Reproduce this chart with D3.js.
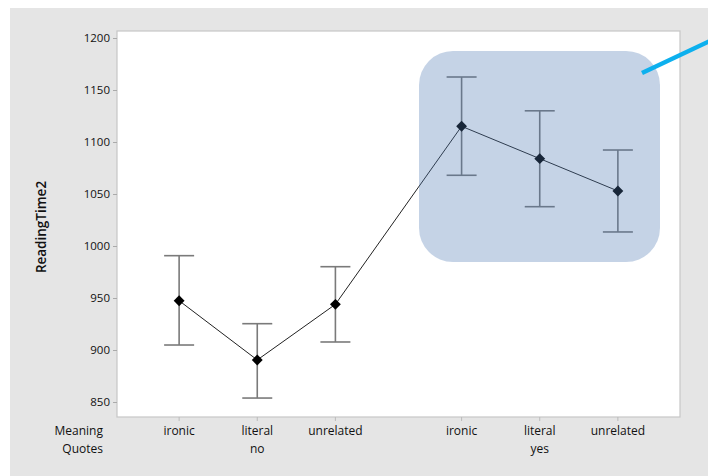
<!DOCTYPE html>
<html>
<head>
<meta charset="utf-8">
<script src="https://cdn.jsdelivr.net/npm/d3@7"></script>
<style>
body { margin: 0; background: #fff; font-family: "Open Sans", "Noto Sans", sans-serif; }
svg text { fill: #111; }
</style>
</head>
<body>
<script>
// chart values
var meaning = ["ironic", "literal", "unrelated", "ironic", "literal", "unrelated"];
var quotes  = ["no", "no", "no", "yes", "yes", "yes"];
var means   = [947.4, 890.4, 943.9, 1115.1, 1084.0, 1052.9];
var upper   = [990.7, 925.3, 980.1, 1162.5, 1130.0, 1092.3];
var lower   = [904.8, 853.8, 907.7, 1068.0, 1037.8, 1013.5];
var yTicks  = [850, 900, 950, 1000, 1050, 1100, 1150, 1200];

var width = 708, height = 476;
var plot = {left: 117, top: 31, right: 680, bottom: 417};

var svg = d3.select("body").append("svg")
    .attr("width", width)
    .attr("height", height);

// grey background panel
svg.append("rect")
    .attr("x", 10).attr("y", 8)
    .attr("width", width - 10).attr("height", height - 8)
    .attr("fill", "#e5e5e5");

// position of each point: index within group plus a gap between groups
function pos(i) {
    var g = Math.floor(i / 3);
    return g * 3.615 + (i % 3);
}

var x = d3.scaleLinear()
    .domain([-0.795, 6.41])
    .range([plot.left, plot.right]);

var y = d3.scaleLinear()
    .domain([1200, 850])
    .range([38, 402]);

svg.append("rect")
    .attr("x", plot.left).attr("y", plot.top)
    .attr("width", plot.right - plot.left)
    .attr("height", plot.bottom - plot.top)
    .attr("fill", "#fff")
    .attr("stroke", "#c6c6c6")
    .attr("stroke-width", 1.2);

// y axis
var yAxis = svg.append("g")
    .attr("transform", "translate(" + plot.left + ",0)")
    .call(d3.axisLeft(y).tickValues(yTicks).tickFormat(d3.format("d")).tickSize(4).tickPadding(3));
yAxis.select(".domain").remove();
yAxis.selectAll("line").attr("stroke", "#aaa");
yAxis.selectAll("text").attr("font-size", 11.5).attr("font-family", "Open Sans").attr("fill", "#111");

// x axis ticks
var idx = d3.range(meaning.length);
svg.selectAll(".xtick")
    .data(idx)
    .enter().append("line")
    .attr("x1", function(d) { return x(pos(d)); })
    .attr("x2", function(d) { return x(pos(d)); })
    .attr("y1", plot.bottom)
    .attr("y2", plot.bottom + 4)
    .attr("stroke", "#bbb");

svg.selectAll(".xlab")
    .data(idx)
    .enter().append("text")
    .attr("x", function(d) { return x(pos(d)); })
    .attr("y", 435)
    .attr("text-anchor", "middle")
    .attr("font-size", 12)
    .text(function(d) { return meaning[d]; });

// group labels under the middle level
svg.selectAll(".glab")
    .data([1, 4])
    .enter().append("text")
    .attr("x", function(d) { return x(pos(d)); })
    .attr("y", 453)
    .attr("text-anchor", "middle")
    .attr("font-size", 12)
    .text(function(d) { return quotes[d]; });

svg.append("text").attr("x", 103).attr("y", 435)
    .attr("text-anchor", "end").attr("font-size", 12).text("Meaning");
svg.append("text").attr("x", 103).attr("y", 453)
    .attr("text-anchor", "end").attr("font-size", 12).text("Quotes");

svg.append("text")
    .attr("transform", "translate(46,227) rotate(-90)")
    .attr("text-anchor", "middle")
    .attr("font-size", 13.5)
    .attr("font-weight", 600)
    .text("ReadingTime2");

// error bars
var bars = svg.append("g").attr("stroke", "#7a7a7a").attr("stroke-width", 1.6);
bars.selectAll(".v")
    .data(idx)
    .enter().append("line")
    .attr("x1", function(d) { return x(pos(d)); })
    .attr("x2", function(d) { return x(pos(d)); })
    .attr("y1", function(d) { return y(upper[d]); })
    .attr("y2", function(d) { return y(lower[d]); });
[upper, lower].forEach(function(arr) {
    bars.selectAll(null)
        .data(idx)
        .enter().append("line")
        .attr("x1", function(d) { return x(pos(d)) - 15; })
        .attr("x2", function(d) { return x(pos(d)) + 15; })
        .attr("y1", function(d) { return y(arr[d]); })
        .attr("y2", function(d) { return y(arr[d]); });
});

// connecting line and diamonds
var line = d3.line()
    .x(function(d) { return x(pos(d)); })
    .y(function(d) { return y(means[d]); });
svg.append("path")
    .datum(idx)
    .attr("d", line)
    .attr("fill", "none")
    .attr("stroke", "#222")
    .attr("stroke-width", 1);

svg.selectAll(".pt")
    .data(idx)
    .enter().append("path")
    .attr("transform", function(d) { return "translate(" + x(pos(d)) + "," + y(means[d]) + ")"; })
    .attr("d", d3.symbol().type(d3.symbolDiamond2).size(75))
    .attr("fill", "#000");

// highlight box over the "yes" group
svg.append("rect")
    .attr("x", 419).attr("y", 51)
    .attr("width", 241).attr("height", 211)
    .attr("rx", 34).attr("ry", 34)
    .attr("fill", "#4a76b0")
    .attr("opacity", 0.32);

svg.append("line")
    .attr("x1", 642).attr("y1", 73)
    .attr("x2", 712).attr("y2", 40)
    .attr("stroke", "#0db0ee")
    .attr("stroke-width", 4.5);
</script>
</body>
</html>
